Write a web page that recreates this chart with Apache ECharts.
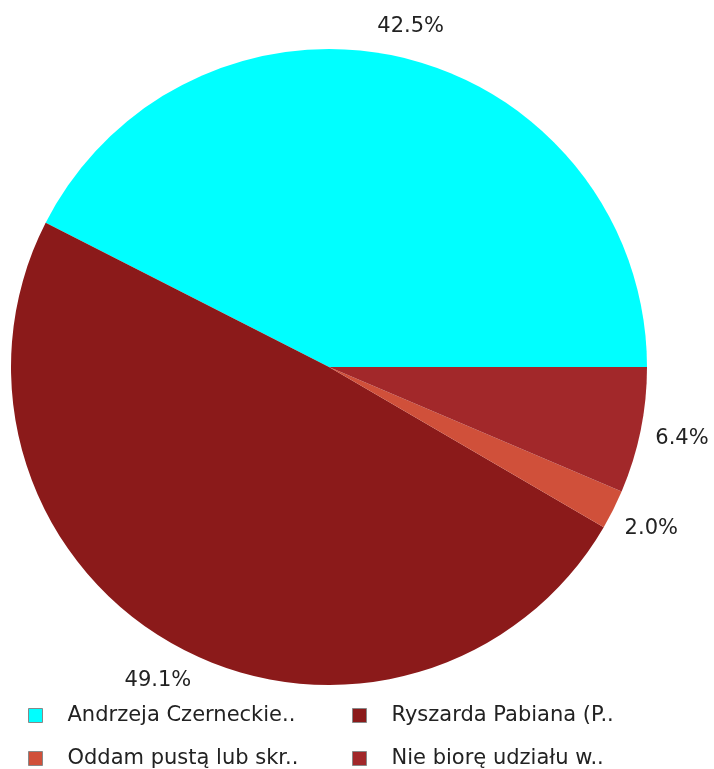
<!DOCTYPE html>
<html>
<head>
<meta charset="utf-8">
<script src="https://cdn.jsdelivr.net/npm/echarts@6/dist/echarts.min.js"></script>
<style>
html, body { margin: 0; padding: 0; background: #fff; }
#chart { width: 714px; height: 769px; }
</style>
</head>
<body>
<div id="chart"></div>
<script>
var names = ['Andrzeja Czerneckie..', 'Ryszarda Pabiana (P..', 'Oddam pustą lub skr..', 'Nie biorę udziału w..'];
var values = [42.5, 49.1, 2.0, 6.4];
var colors = ['#00ffff', '#8b1a1a', '#d0503a', '#a2282a'];

var cx = 329, cy = 367, R = 318, labelGap = 14;

var chart = echarts.init(document.getElementById('chart'));

var pieData = names.map(function (n, i) {
    return { name: n, value: values[i], itemStyle: { color: colors[i] } };
});

var total = values.reduce(function (a, b) { return a + b; }, 0);

// keep each label box a fixed gap away from the rim, centred on the slice's mid angle
function placeLabel(p) {
    var before = 0;
    for (var i = 0; i < p.dataIndex; i++) before += values[i];
    var mid = (before + values[p.dataIndex] / 2) / total * Math.PI * 2;
    var ux = Math.cos(mid), uy = -Math.sin(mid);
    var w = p.labelRect.width, h = p.labelRect.height;
    var d = R + labelGap + Math.abs(ux) * w / 2 + Math.abs(uy) * h / 2;
    return { x: cx + ux * d, y: cy + uy * d, align: 'center', verticalAlign: 'middle' };
}

var legendBase = {
    orient: 'vertical',
    top: 700,
    height: 90,
    itemWidth: 14,
    itemHeight: 14,
    itemGap: 22,
    icon: 'rect',
    selectedMode: false,
    itemStyle: { borderColor: '#888', borderWidth: 1 },
    textStyle: {
        fontFamily: 'DejaVu Sans',
        fontSize: 21,
        color: '#222',
        padding: [0, 0, 0, 20]
    }
};

option = {
    animation: false,
    legend: [
        Object.assign({}, legendBase, { left: 23, data: [names[0], names[2]] }),
        Object.assign({}, legendBase, { left: 347, data: [names[1], names[3]] })
    ],
    series: [{
        type: 'pie',
        center: [cx, cy],
        radius: R,
        startAngle: 0,
        clockwise: false,
        avoidLabelOverlap: false,
        data: pieData,
        label: {
            position: 'outside',
            formatter: function (p) { return p.value.toFixed(1) + '%'; },
            fontFamily: 'DejaVu Sans',
            fontSize: 21,
            color: '#222'
        },
        labelLine: { show: false },
        labelLayout: placeLabel,
        emphasis: { disabled: true }
    }]
};

chart.setOption(option);
</script>
</body>
</html>
